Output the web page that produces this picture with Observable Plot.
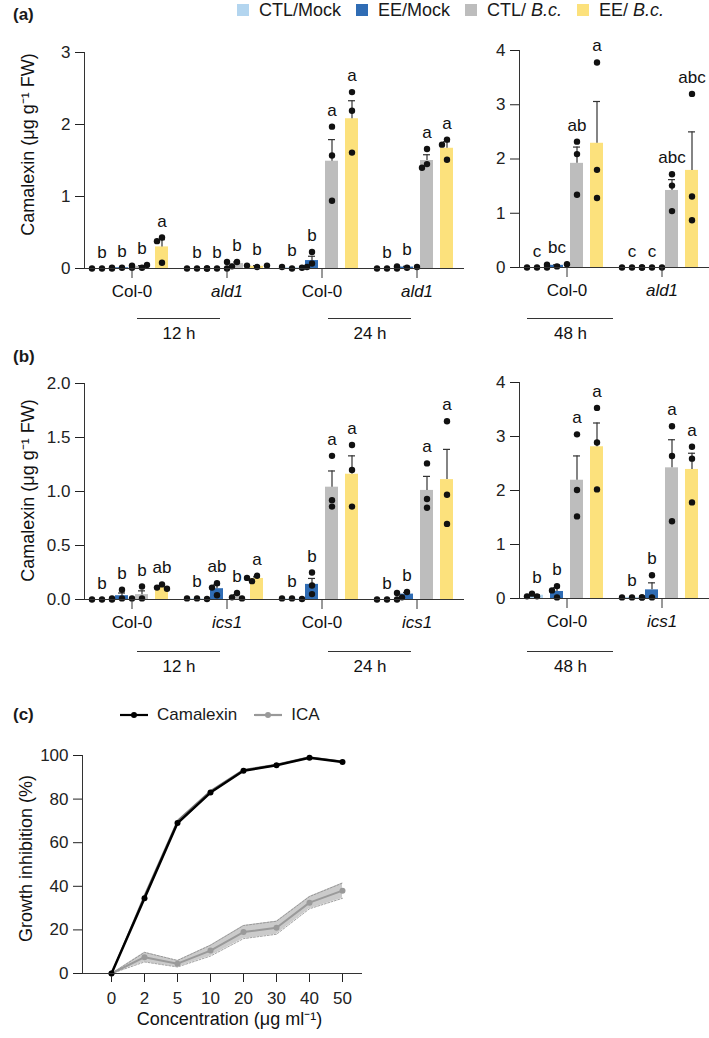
<!DOCTYPE html>
<html><head><meta charset="utf-8">
<script src="https://cdn.jsdelivr.net/npm/d3@7"></script>
<script src="https://cdn.jsdelivr.net/npm/@observablehq/plot@0.6"></script>
<style>
body{margin:0;background:#fff;font-family:"Liberation Sans",Arial,sans-serif;color:#1a1a1a;}
#fig{position:relative;width:709px;height:1038px;overflow:hidden;background:#fff;}
.abs{position:absolute;}
.plabel{font-weight:bold;font-size:17px;line-height:17px;}
.leg{display:flex;align-items:center;font-size:18px;line-height:18px;white-space:nowrap;}
.leg .sq{width:12px;height:12px;margin-right:10px;}
.leg .item{display:flex;align-items:center;margin-right:15px;}
.legc{display:flex;align-items:center;font-size:17px;line-height:17px;white-space:nowrap;}
.legc .item{display:flex;align-items:center;margin-right:17px;}
.legc svg{margin-right:9px;}
</style></head><body><div id="fig"></div>
<script>
// ---------------- data ----------------
const treatments = ["CTL/Mock", "EE/Mock", "CTL/ B.c.", "EE/ B.c."];
const treatmentColors = ["#b3d5ef", "#2f6cb4", "#bdbdbd", "#fce17c"];

// Panel (a) left: 12 h and 24 h
const groupsA1 = ["Col-0|12 h", "ald1|12 h", "Col-0|24 h", "ald1|24 h"];
const meansA1 = [[0.00, 0.01, 0.03, 0.30], [0.00, 0.00, 0.07, 0.03], [0.01, 0.11, 1.49, 2.08], [0.00, 0.02, 1.50, 1.67]];
const semsA1  = [[0.00, 0.00, 0.01, 0.10], [0.00, 0.00, 0.02, 0.01], [0.00, 0.06, 0.30, 0.25], [0.00, 0.01, 0.08, 0.09]];
const dotsA1 = [
  [[0, 0, 0], [0.01, 0.01, 0.01], [0.01, 0.04, 0.05], [0.43, 0.38, 0.08]],
  [[0, 0, 0], [0, 0, 0], [0.09, 0.09, 0.03], [0.02, 0.04, 0.04]],
  [[0, 0.02, 0.01], [0.23, 0.07, 0.02], [1.97, 1.57, 0.94], [2.45, 2.19, 1.61]],
  [[0, 0, 0], [0.01, 0.03, 0.02], [1.66, 1.45, 1.40], [1.79, 1.72, 1.51]]];
const lettersA1 = [["b", "b", "b", "a"], ["b", "b", "b", "b"], ["b", "b", "a", "a"], ["b", "b", "a", "a"]];

// Panel (a) right: 48 h
const groupsA2 = ["Col-0|48 h", "ald1|48 h"];
const meansA2 = [[0.00, 0.04, 1.92, 2.29], [0.00, 0.00, 1.42, 1.79]];
const semsA2  = [[0.00, 0.01, 0.30, 0.77], [0.00, 0.00, 0.20, 0.71]];
const dotsA2 = [
  [[0, 0, 0], [0.02, 0.05, 0.06], [2.32, 2.09, 1.34], [3.78, 1.80, 1.28]],
  [[0, 0, 0], [0, 0, 0], [1.72, 1.51, 1.04], [3.20, 1.31, 0.87]]];
const lettersA2 = [["c", "bc", "ab", "a"], ["c", "c", "abc", "abc"]];

// Panel (b) left: 12 h and 24 h
const groupsB1 = ["Col-0|12 h", "ics1|12 h", "Col-0|24 h", "ics1|24 h"];
const meansB1 = [[0.00, 0.035, 0.045, 0.115], [0.005, 0.10, 0.03, 0.195], [0.005, 0.14, 1.04, 1.16], [0.00, 0.05, 1.01, 1.11]];
const semsB1  = [[0.00, 0.025, 0.035, 0.012], [0.00, 0.035, 0.015, 0.015], [0.00, 0.055, 0.15, 0.17], [0.00, 0.015, 0.13, 0.28]];
const dotsB1 = [
  [[0, 0, 0], [0.09, 0.01, 0.01], [0.12, 0.01, 0.01], [0.14, 0.11, 0.10]],
  [[0.01, 0.01, 0.005], [0.15, 0.11, 0.04], [0.06, 0.02, 0.01], [0.22, 0.20, 0.17]],
  [[0.01, 0.01, 0.005], [0.25, 0.13, 0.05], [1.33, 0.92, 0.86], [1.43, 1.20, 0.86]],
  [[0, 0, 0], [0.07, 0.06, 0.02], [1.26, 0.93, 0.85], [1.65, 0.97, 0.70]]];
const lettersB1 = [["b", "b", "b", "ab"], ["b", "ab", "b", "a"], ["b", "b", "a", "a"], ["b", "b", "a", "a"]];

// Panel (b) right: 48 h
const groupsB2 = ["Col-0|48 h", "ics1|48 h"];
const meansB2 = [[0.06, 0.13, 2.19, 2.81], [0.02, 0.16, 2.42, 2.39]];
const semsB2  = [[0.01, 0.07, 0.45, 0.44], [0.00, 0.13, 0.52, 0.30]];
const dotsB2 = [
  [[0.04, 0.09, 0.04], [0.23, 0.15, 0.02], [3.04, 2.01, 1.52], [3.53, 2.89, 2.02]],
  [[0.02, 0.02, 0.02], [0.43, 0.02, 0.02], [3.19, 2.64, 1.43], [2.81, 2.59, 1.78]]];
const lettersB2 = [["b", "b", "a", "a"], ["b", "b", "a", "a"]];

const timesLeft = ["12 h", "24 h"];
const timesRight = ["48 h"];
const mutants = ["ald1", "ics1"];

// Panel (c)
const conc = ["0", "2", "5", "10", "20", "30", "40", "50"];
const camalexin   = [0, 34.5, 69, 83, 93, 95.5, 99, 97];
const camalexinSE = [0, 1.5, 1.2, 0.8, 0.6, 0.5, 0.4, 0.5];
const icaVals     = [0, 7.5, 4.5, 10.5, 19, 21, 32.5, 38];
const icaSE       = [0, 2.2, 1.5, 2.5, 3, 3, 2.8, 3.5];

const yLabelBars = "Camalexin (μg g⁻¹ FW)";

// ---------------- helpers ----------------
const FONT = "'Liberation Sans', Arial, Helvetica, sans-serif";
const baseStyle = {fontFamily: FONT, fontSize: "17px", color: "#222", background: "none", overflow: "visible"};
const INK = "#333";
const SP = 5, MIN_D = 5.5, R = 3.2;
const genotype = d => d.split("|")[0];
const isMutant = d => mutants.includes(genotype(d));

function swarmSlots(vals, pxPerUnit) {
  const placed = [];
  return vals.map(v => {
    const py = v * pxPerUnit;
    for (const s of [0, -1, 1, -2, 2, -3, 3]) {
      const px = s * SP;
      if (placed.every(p => Math.hypot(p.px - px, p.py - py) >= MIN_D)) { placed.push({px, py}); return s; }
    }
    return 0;
  });
}

function barPanel(cfg) {
  const {groups, means, sems, dots, letters, yMax, yTicks, yFmt, yLabel, labelDy, width, height, mt, mb, ml, mr} = cfg;
  const pxPerUnit = (height - mt - mb) / yMax;
  const rows = [], pts = [];
  groups.forEach((g, i) => treatments.forEach((t, j) => {
    const vals = dots[i][j];
    rows.push({g, t, mean: means[i][j], sem: sems[i][j], top: Math.max(means[i][j] + sems[i][j], ...vals), letter: letters[i][j]});
    swarmSlots(vals, pxPerUnit).forEach((s, k) => pts.push({g, t, v: vals[k], slot: s}));
  }));
  const slots = [...new Set(pts.map(p => p.slot))];
  const withErr = rows.filter(d => d.sem > 0);
  const marks = [
    Plot.barY(rows, {fx: "g", x: "t", y: "mean", fill: "t"}),
    Plot.ruleX(withErr, {fx: "g", x: "t", y1: "mean", y2: d => d.mean + d.sem, stroke: INK, strokeWidth: 1.2}),
    Plot.tickY(withErr, {fx: "g", x: "t", y: d => d.mean + d.sem, stroke: INK, strokeWidth: 1.2, insetLeft: 3, insetRight: 3}),
    ...slots.map(s => Plot.dot(pts.filter(p => p.slot === s), {fx: "g", x: "t", y: "v", dx: s * SP, r: R, fill: "#111", stroke: "none"})),
    Plot.text(rows, {fx: "g", x: "t", y: "top", text: "letter", dy: -11, lineAnchor: "bottom", fontSize: 17, fill: "#111"}),
    Plot.ruleY([0], {stroke: INK}),
    Plot.frame({anchor: "left", facetAnchor: "left", stroke: INK}),
    Plot.axisFx({anchor: "bottom", ticks: groups.filter(g => !isMutant(g)), tickFormat: genotype, tickSize: 10, tickPadding: 6, label: null, stroke: INK, fill: "#111"}),
    Plot.axisFx({anchor: "bottom", ticks: groups.filter(isMutant), tickFormat: genotype, tickSize: 10, tickPadding: 6, label: null, fontStyle: "italic", stroke: INK, fill: "#111"})
  ];
  if (yLabel) marks.push(Plot.text([yLabel], {frameAnchor: "left", textAnchor: "middle", rotate: -90, dx: -56, dy: labelDy, fontSize: 18, facetAnchor: "left", fill: "#111"}));
  return Plot.plot({
    width, height, marginTop: mt, marginBottom: mb, marginLeft: ml, marginRight: mr,
    style: baseStyle,
    fx: {domain: groups, padding: 0, axis: null},
    x: {domain: treatments, paddingInner: 0.33, paddingOuter: 0.46, axis: null},
    y: {domain: [0, yMax], ticks: yTicks, tickFormat: yFmt, tickSize: 9, tickPadding: 5, label: null},
    color: {domain: treatments, range: treatmentColors},
    marks
  });
}

function bracketPanel({times, width, ml, mr, inset}) {
  return Plot.plot({
    width, height: 40, marginTop: 13, marginBottom: 12, marginLeft: ml, marginRight: mr,
    style: baseStyle,
    x: {domain: times, padding: 0, axis: null},
    y: {domain: [0, 1], axis: null},
    marks: [
      Plot.tickY(times, {x: d => d, y: () => 1, insetLeft: inset, insetRight: inset, stroke: INK}),
      Plot.text(times, {x: d => d, y: () => 0, text: d => d, fontSize: 17, fill: "#111"})
    ]
  });
}

const fig = document.getElementById("fig");
function place(el, left, top) {
  const w = document.createElement("div");
  w.className = "abs"; w.style.left = left + "px"; w.style.top = top + "px";
  w.appendChild(el); fig.appendChild(w); return w;
}
function html(str, cls, left, top) {
  const d = document.createElement("div");
  d.className = "abs " + cls; d.style.left = left + "px"; d.style.top = top + "px";
  d.innerHTML = str; fig.appendChild(d); return d;
}
const legendHTML = t => t.includes("B.c.") ? t.replace("B.c.", "<i>B.c.</i>").replace(" ", "&nbsp;") : t;

// panel labels
html("(a)", "plabel", 13, 6);
html("(b)", "plabel", 13, 348);
html("(c)", "plabel", 13, 706);

// legend (a)
html(treatments.map((t, i) => `<div class="item"><div class="sq" style="background:${treatmentColors[i]}"></div><span>${legendHTML(t)}</span></div>`).join(""), "leg", 237, 1);

// Panel (a)
place(barPanel({groups: groupsA1, means: meansA1, sems: semsA1, dots: dotsA1, letters: lettersA1,
  yMax: 3, yTicks: [0, 1, 2, 3], yFmt: d3.format("d"), yLabel: yLabelBars, labelDy: -16,
  width: 467, height: 270, mt: 22, mb: 32, ml: 82, mr: 2}), 0, 30);
place(barPanel({groups: groupsA2, means: meansA2, sems: semsA2, dots: dotsA2, letters: lettersA2,
  yMax: 4, yTicks: [0, 1, 2, 3, 4], yFmt: d3.format("d"),
  width: 242, height: 270, mt: 20, mb: 33, ml: 51, mr: 0}), 467, 30);
place(bracketPanel({times: timesLeft, width: 467, ml: 82, mr: 2, inset: 54}), 0, 305);
place(bracketPanel({times: timesRight, width: 155, ml: 51, mr: 0, inset: 9}), 467, 305);

// Panel (b)
place(barPanel({groups: groupsB1, means: meansB1, sems: semsB1, dots: dotsB1, letters: lettersB1,
  yMax: 2, yTicks: [0, 0.5, 1, 1.5, 2], yFmt: d3.format(".1f"), yLabel: yLabelBars, labelDy: -1,
  width: 467, height: 271, mt: 23, mb: 32, ml: 82, mr: 2}), 0, 360);
place(barPanel({groups: groupsB2, means: meansB2, sems: semsB2, dots: dotsB2, letters: lettersB2,
  yMax: 4, yTicks: [0, 1, 2, 3, 4], yFmt: d3.format("d"),
  width: 242, height: 271, mt: 22, mb: 33, ml: 51, mr: 0}), 467, 360);
place(bracketPanel({times: timesLeft, width: 467, ml: 82, mr: 2, inset: 54}), 0, 638);
place(bracketPanel({times: timesRight, width: 155, ml: 51, mr: 0, inset: 9}), 467, 638);

// legend (c)
const swatch = c => `<svg width="28" height="10"><line x1="0" y1="5" x2="28" y2="5" stroke="${c}" stroke-width="2.2"/><circle cx="14" cy="5" r="3" fill="${c}"/></svg>`;
html(`<div class="item">${swatch("#000")}<span>Camalexin</span></div><div class="item">${swatch("#999")}<span>ICA</span></div>`, "legc", 120, 706);

// Panel (c)
const concRows = conc.map((c, i) => ({c, cam: camalexin[i], camSE: camalexinSE[i], ica: icaVals[i], icaSE: icaSE[i]}));
place(Plot.plot({
  width: 400, height: 298, marginTop: 15, marginBottom: 65, marginLeft: 82, marginRight: 38,
  style: baseStyle,
  x: {type: "point", domain: conc, padding: 0.635, align: 0.6, tickSize: 9, tickPadding: 9, label: null},
  y: {domain: [0, 100], ticks: [0, 20, 40, 60, 80, 100], tickSize: 9, tickPadding: 5, label: null},
  marks: [
    Plot.areaY(concRows, {x: "c", y1: d => d.ica - d.icaSE, y2: d => d.ica + d.icaSE, fill: "#cbcbcb"}),
    Plot.lineY(concRows, {x: "c", y: d => d.ica - d.icaSE, stroke: "#8a8a8a", strokeWidth: 0.8, strokeDasharray: "2,1.5"}),
    Plot.lineY(concRows, {x: "c", y: d => d.ica + d.icaSE, stroke: "#8a8a8a", strokeWidth: 0.8, strokeDasharray: "2,1.5"}),
    Plot.areaY(concRows, {x: "c", y1: d => d.cam - d.camSE, y2: d => d.cam + d.camSE, fill: "#777"}),
    Plot.lineY(concRows, {x: "c", y: "ica", stroke: "#9a9a9a", strokeWidth: 2}),
    Plot.dot(concRows, {x: "c", y: "ica", r: 3, fill: "#9a9a9a"}),
    Plot.lineY(concRows, {x: "c", y: "cam", stroke: "#000", strokeWidth: 2.5}),
    Plot.dot(concRows, {x: "c", y: "cam", r: 3, fill: "#000"}),
    Plot.ruleY([0], {stroke: INK}),
    Plot.frame({anchor: "left", stroke: INK}),
    Plot.text(["Growth inhibition (%)"], {frameAnchor: "left", textAnchor: "middle", rotate: -90, dx: -56, dy: -6, fontSize: 18, fill: "#111"}),
    Plot.text(["Concentration (μg ml⁻¹)"], {frameAnchor: "bottom", textAnchor: "middle", dy: 51, dx: 7, fontSize: 18, fill: "#111"})
  ]
}), 0, 740);
</script></body></html>
